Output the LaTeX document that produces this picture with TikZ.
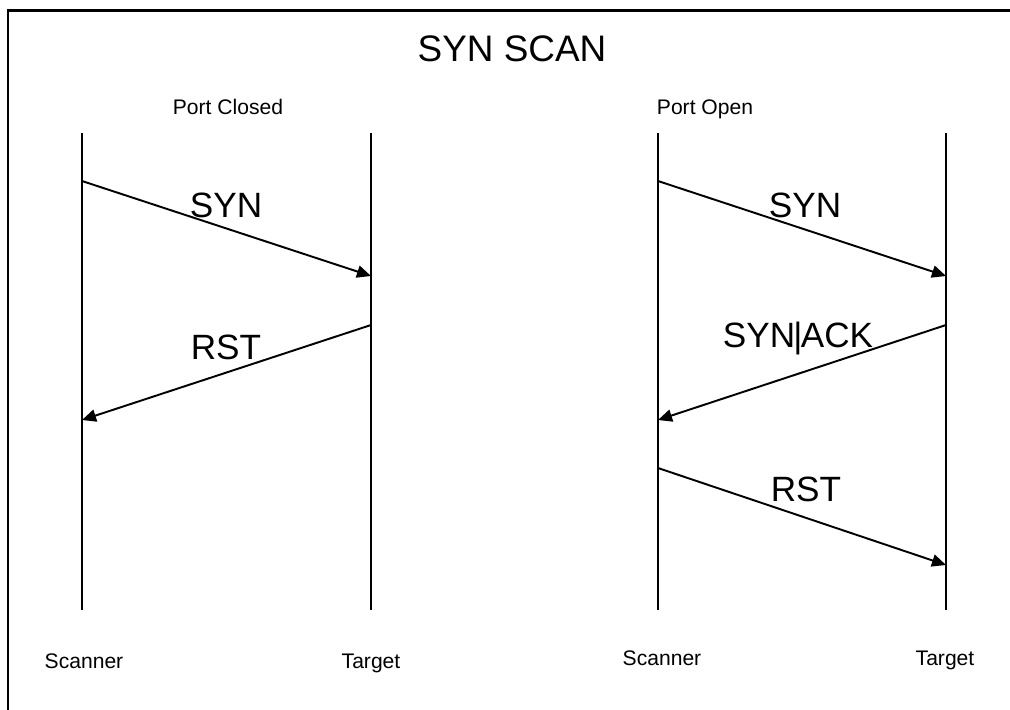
\documentclass[tikz,border=0pt]{standalone}
\usepackage{fontspec}
\setmainfont{Liberation Sans}
\usetikzlibrary{arrows.meta}

\begin{document}
\begin{tikzpicture}[x=0.2mm,y=-0.2mm,line width=1.1pt,
    msg/.style={-{Triangle[length=8pt,width=7pt]}},
    big/.style={font=\fontsize{21}{24}\selectfont,anchor=base},
    lbl/.style={font=\fontsize{20}{23}\selectfont,anchor=base},
    small/.style={font=\fontsize{12}{14}\selectfont,anchor=base}]
  \useasboundingbox (0,0) rectangle (1010,709);
  \draw[line width=1.7pt]
    (8,720) -- (8,10) -- (1020,10);
  % titles
  \node[big] (title) at (512,61) {SYN SCAN};
  \node[small] (closed) at (228,114) {Port Closed};
  \node[small] (open) at (705,114) {Port Open};
  % lifelines
  \coordinate (sc1top) at (82,133);
  \coordinate (sc1bot) at (82,610);
  \coordinate (tg1top) at (371,133);
  \coordinate (tg1bot) at (371,610);
  \coordinate (sc2top) at (658,133);
  \coordinate (sc2bot) at (658,610);
  \coordinate (tg2top) at (946,133);
  \coordinate (tg2bot) at (946,610);
  \draw
    (sc1top) -- (sc1bot)
    (tg1top) -- (tg1bot)
    (sc2top) -- (sc2bot)
    (tg2top) -- (tg2bot);
  \node[small] (scanner1) at (84,668) {Scanner};
  \node[small] (target1) at (371,668) {Target};
  \node[small] (scanner2) at (662,665) {Scanner};
  \node[small] (target2) at (945,665) {Target};
  % port closed
  \coordinate (synA) at (82,181);
  \coordinate (synB) at (371,276);
  \coordinate (rstA) at (371,325);
  \coordinate (rstB) at (82,420);
  \draw[msg] (synA) -- (synB);
  \draw[msg] (rstA) -- (rstB);
  \node[lbl] (syn1) at (226,217) {SYN};
  \node[lbl] (rst1) at (226,359) {RST};
  % port open
  \coordinate (synC) at (658,181);
  \coordinate (synD) at (946,276);
  \coordinate (ackA) at (946,325);
  \coordinate (ackB) at (658,420);
  \coordinate (rstC) at (658,468);
  \coordinate (rstD) at (946,565);
  \draw[msg] (synC) -- (synD);
  \draw[msg] (ackA) -- (ackB);
  \draw[msg] (rstC) -- (rstD);
  \node[lbl] (syn2) at (805,217) {SYN};
  \node[lbl] (ack2) at (798,347) {SYN\kern-1pt|\kern-1pt ACK};
  \node[lbl] (rst2) at (806,501) {RST};
\end{tikzpicture}
\end{document}
